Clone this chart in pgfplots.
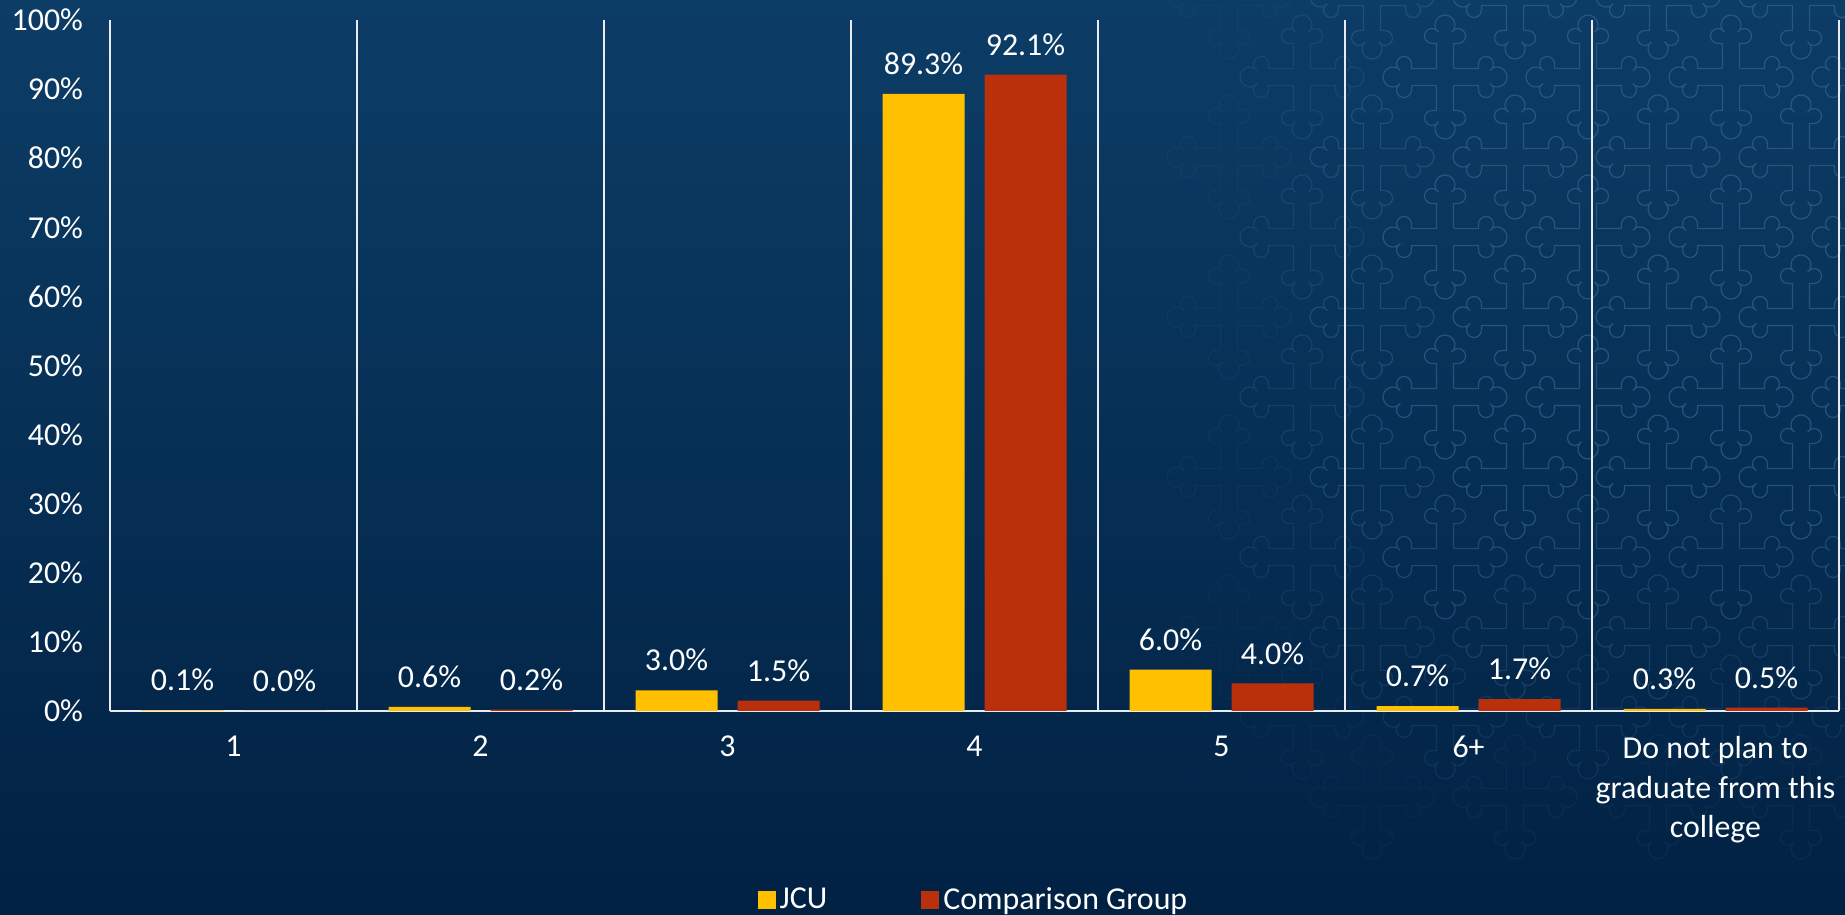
\documentclass[border=0pt]{standalone}
\usepackage{pgfplots}
\pgfplotsset{compat=1.18}
\usepackage{fontspec}
\setmainfont{Carlito}
\definecolor{bgtop}{HTML}{0C3D66}
\definecolor{bgbot}{HTML}{012143}
\definecolor{jcu}{HTML}{FFC000}
\definecolor{comp}{HTML}{BA300A}
\definecolor{sep}{HTML}{E8ECF0}
\definecolor{motif}{HTML}{32608C}

% one arm of the background cross, in reference pixels
\def\crossarm{(8.5,8.5) -- (8.5,33.5) -- (13,33.5)
  arc[start angle=-90, end angle=150, radius=7.5] -- (8.66,47)
  arc[start angle=-30, end angle=210, radius=10] -- (-6.5,44.75)
  arc[start angle=30, end angle=270, radius=7.5] -- (-8.5,33.5) -- (-8.5,8.5)}

\begin{document}
\begin{tikzpicture}[x=1bp,y=1bp]
\useasboundingbox (-55,-102) rectangle (867.5,355.5);
\shade[top color=bgtop, bottom color=bgbot] (-55,-102) rectangle (867.5,355.5);
% faint cross motif, right side
\foreach \j in {-1,...,10}{
  \foreach \i in {-3,...,3}{
    \pgfmathsetmacro{\cx}{1445+143*\i+70*mod(\j+2,2)}
    \pgfmathsetmacro{\cy}{77+80*\j}
    \pgfmathsetmacro{\op}{0.75*max(0,min(1,(\cx-1170)/280))*max(0,min(1,(880-\cy)/420))}
    \ifdim\op pt>0.02pt
      \begin{scope}[shift={({(\cx-110)/2},{(711-\cy)/2})}, scale=0.5]
        \foreach \r in {0,90,180,270}
          \draw[rotate=\r, motif, line width=0.6bp, draw opacity=\op] \crossarm;
      \end{scope}
    \fi
  }
}
\begin{axis}[
  at={(0,0)}, anchor=south west, scale only axis,
  width=864.5bp, height=345.5bp,
  font=\fontsize{16}{20}\selectfont,
  /pgf/number format/assume math mode=true,
  xmin=0.5, xmax=7.5, ymin=0, ymax=100,
  ybar=10bp, bar width=41bp,
  axis line style={draw=none},
  major tick length=0pt, minor tick length=0pt,
  xtick={1,...,7},
  xticklabels={1,2,3,4,5,6+,{Do not plan to\\graduate from this\\college}},
  xticklabel style={align=center, yshift=-9bp, font=\fontsize{16}{20}\selectfont},
  minor xtick={0.5,1.5,...,7.5},
  xminorgrids,
  minor grid style={sep, line width=0.75bp},
  ytick={0,10,...,100},
  yticklabel={\pgfmathprintnumber{\tick}\%},
  yticklabel style={xshift=-10bp},
  extra y ticks={0}, extra y tick labels={},
  extra y tick style={grid=major, major grid style={sep, line width=0.75bp}},
  ticklabel style={text=white},
  nodes near coords={\pgfmathprintnumber[fixed,fixed zerofill,precision=1]{\pgfplotspointmeta}\%},
  nodes near coords style={text=white, yshift=6bp},
  legend style={at={(0.5,-0.2735)}, anchor=center, draw=none, fill=none,
    text=white, legend columns=-1,
    /tikz/every even column/.append style={column sep=45bp}},
  legend image code/.code={\fill[#1] (0bp,-4.5bp) rectangle (9bp,4.5bp);},
]
\addplot[fill=jcu, draw=none] coordinates {
  (1,0.1) (2,0.6) (3,3.0) (4,89.3) (5,6.0) (6,0.7) (7,0.3)};
\addplot[fill=comp, draw=none] coordinates {
  (1,0.0) (2,0.2) (3,1.5) (4,92.1) (5,4.0) (6,1.7) (7,0.5)};
\legend{JCU, Comparison Group}
\end{axis}
\end{tikzpicture}
\end{document}
